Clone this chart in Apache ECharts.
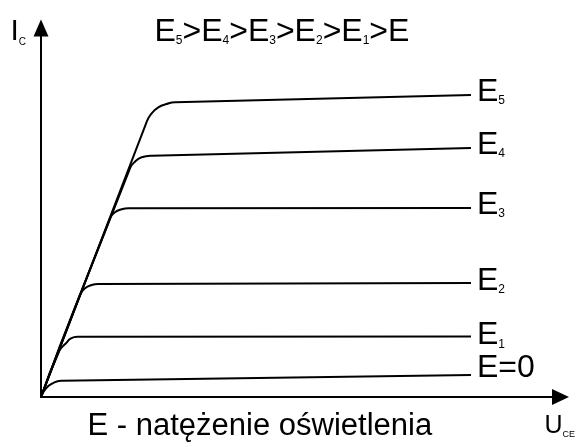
<!DOCTYPE html>
<html>
<head>
<meta charset="utf-8">
<script src="https://cdn.jsdelivr.net/npm/echarts@6/dist/echarts.min.js"></script>
<style>html,body{margin:0;padding:0;background:#fff}#c{width:587px;height:447px}</style>
</head>
<body>
<div id="c"></div>
<script>
// Characteristic curves I_C(U_CE) for increasing illuminance (arbitrary units)
const curveNames = ['E5', 'E4', 'E3', 'E2', 'E1', 'E=0'];
const curveSubs = ['5', '4', '3', '2', '1', ''];
const curveE5 = [[0, 0], [2.035, 5.223], [2.131, 5.382], [2.258, 5.496], [2.420, 5.559], [2.579, 5.591], [8.277, 5.729]];
const curveE4 = [[0, 0], [1.713, 4.339], [1.809, 4.464], [1.938, 4.548], [2.131, 4.578], [8.277, 4.724]];
const curveE3 = [[0, 0], [1.328, 3.390], [1.424, 3.504], [1.553, 3.561], [1.680, 3.580], [8.277, 3.586]];
const curveE2 = [[0, 0], [0.751, 1.935], [0.847, 2.062], [0.976, 2.125], [1.103, 2.144], [8.277, 2.163]];
const curveE1 = [[0, 0], [0.356, 0.882], [0.481, 1.019], [0.577, 1.114], [0.706, 1.144], [8.277, 1.150]];
const curveE0 = [[0, 0], [0.096, 0.165], [0.225, 0.260], [0.385, 0.309], [8.277, 0.417]];
const curves = [curveE5, curveE4, curveE3, curveE2, curveE1, curveE0];
const labelOffsets = [-3, -3, -3, -2, -1, -7];
const xRange = [0, 10];
const yRange = [0, 7];

const FONT = 'Liberation Sans, Arial, sans-serif';

const chart = echarts.init(document.getElementById('c'), null, {renderer: 'canvas'});

const big = (size, lh) => ({fontSize: size, lineHeight: lh, fontFamily: FONT, fontWeight: 'normal', color: '#000'});
const sub = (size, lh) => ({fontSize: size, lineHeight: lh, verticalAlign: 'bottom', fontFamily: FONT, fontWeight: 'normal', color: '#000'});

const series = curves.map((d, i) => ({
  type: 'line',
  name: curveNames[i],
  data: d,
  smooth: 0.5,
  showSymbol: false,
  symbol: 'none',
  lineStyle: {color: '#000', width: 2},
  silent: true,
  animation: false,
  endLabel: {
    show: true,
    distance: 6,
    offset: [0, labelOffsets[i]],
    formatter: curveSubs[i] ? '{e|E}{s|' + curveSubs[i] + '}' : '{e|E=0}',
    rich: {e: big(32, 30), s: sub(12, 6)}
  }
}));

const axisCommon = {
  type: 'value',
  axisLabel: {show: false},
  axisTick: {show: false},
  splitLine: {show: false},
  axisLine: {
    show: true,
    symbol: ['none', 'triangle'],
    lineStyle: {color: '#000', width: 2}
  }
};

chart.setOption({
  animation: false,
  backgroundColor: '#fff',
  grid: {left: 41, right: 26.5, top: 28, bottom: 50, containLabel: false},
  xAxis: Object.assign({}, axisCommon, {min: xRange[0], max: xRange[1],
    axisLine: Object.assign({}, axisCommon.axisLine, {symbolSize: [16, 17]})}),
  yAxis: Object.assign({}, axisCommon, {min: yRange[0], max: yRange[1],
    axisLine: Object.assign({}, axisCommon.axisLine, {symbolSize: [15, 17]})}),
  title: [
    {
      text: '{e|E}{s|5}{e|>E}{s|4}{e|>E}{s|3}{e|>E}{s|2}{e|>E}{s|1}{e|>E}',
      left: 154.5, top: 17, padding: 0,
      textStyle: {fontWeight: 'normal', rich: {e: big(32, 30), s: sub(12, 6)}}
    },
    {
      text: '{e|I}{s|C}',
      left: 10.5, top: 17, padding: 0,
      textStyle: {fontWeight: 'normal', rich: {e: big(30, 30), s: sub(10, 12)}}
    },
    {
      text: '{e|U}{s|CE}',
      left: 544.5, top: 414, padding: 0,
      textStyle: {fontWeight: 'normal', rich: {e: big(25, 25), s: sub(9, 9)}}
    },
    {
      text: '{e|E - natężenie oświetlenia}',
      left: 87.5, top: 411, padding: 0,
      textStyle: {fontWeight: 'normal', rich: {e: big(31, 31)}}
    }
  ],
  series: series
});
</script>
</body>
</html>
